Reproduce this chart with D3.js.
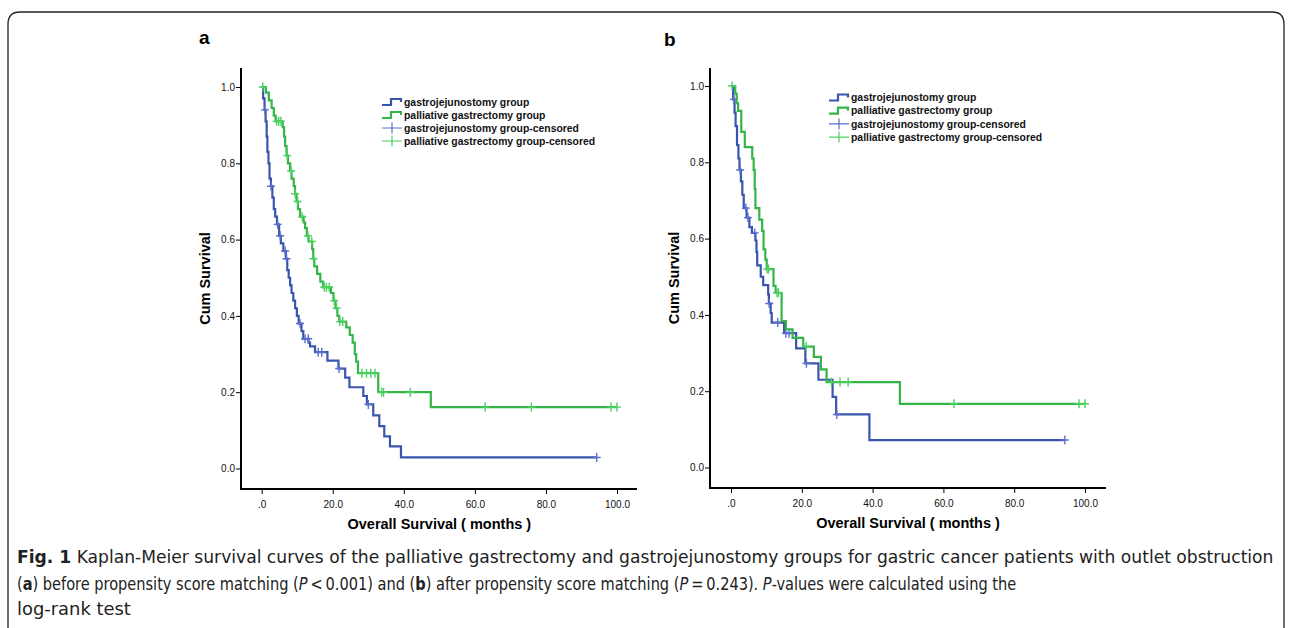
<!DOCTYPE html>
<html>
<head>
<meta charset="utf-8">
<script src="https://cdn.jsdelivr.net/npm/d3@7"></script>
<style>
  body { margin: 0; background: #fff; }
  svg { display: block; }
</style>
</head>
<body>
<div id="chart"></div>
<script>
// axis ticks
const xTicks = [0, 20, 40, 60, 80, 100];
const xTickLabels = [".0", "20.0", "40.0", "60.0", "80.0", "100.0"];
const yTicks = [0, 0.2, 0.4, 0.6, 0.8, 1.0];
const yTickLabels = ["0.0", "0.2", "0.4", "0.6", "0.8", "1.0"];

const seriesNames = [
  "gastrojejunostomy group",
  "palliative gastrectomy group",
  "gastrojejunostomy group-censored",
  "palliative gastrectomy group-censored",
];

// panel a: before matching
const gjTimesA = [0.4, 0.8, 1.1, 1.4, 1.6, 1.9, 2.2, 2.6, 3.0, 3.4, 3.8, 4.3, 4.9, 5.4, 6.1, 6.8, 7.2, 7.6, 8.0, 8.4, 8.9, 9.4, 9.9, 10.4, 11.2, 11.7, 13.2, 13.6, 15.0, 18.5, 21.6, 23.5, 24.7, 28.6, 29.6, 31.4, 33.1, 34.5, 36.1, 39.2];
const gjSurvA = [0.97, 0.94, 0.91, 0.87, 0.83, 0.80, 0.76, 0.74, 0.71, 0.68, 0.66, 0.64, 0.61, 0.59, 0.57, 0.55, 0.52, 0.50, 0.48, 0.46, 0.44, 0.42, 0.40, 0.38, 0.36, 0.34, 0.33, 0.32, 0.305, 0.283, 0.262, 0.238, 0.213, 0.19, 0.168, 0.139, 0.111, 0.084, 0.058, 0.029];
const gjCensA = [0.9, 2.6, 4.5, 5.2, 6.6, 7.0, 10.8, 12.2, 13.1, 15.9, 16.9, 21.8, 30.0, 94.3];

const pgTimesA = [1.2, 2.0, 2.8, 3.4, 3.9, 5.9, 6.3, 6.6, 7.0, 7.4, 8.0, 8.4, 9.0, 9.4, 9.8, 10.2, 10.8, 11.8, 12.2, 12.7, 13.2, 14.2, 14.5, 14.8, 15.6, 16.5, 17.3, 19.5, 20.2, 20.8, 21.3, 21.8, 23.8, 24.8, 25.6, 26.2, 26.6, 27.1, 32.8, 47.6];
const pgSurvA = [0.985, 0.965, 0.945, 0.925, 0.91, 0.895, 0.87, 0.845, 0.82, 0.80, 0.78, 0.76, 0.74, 0.72, 0.70, 0.68, 0.66, 0.645, 0.63, 0.61, 0.595, 0.575, 0.55, 0.53, 0.51, 0.49, 0.475, 0.46, 0.44, 0.42, 0.40, 0.385, 0.37, 0.35, 0.33, 0.30, 0.28, 0.25, 0.20, 0.161];
const pgCensA = [0.3, 4.2, 4.8, 5.4, 7.2, 8.3, 9.4, 10.1, 11.4, 13.0, 14.1, 14.6, 17.6, 18.2, 19.0, 20.4, 21.1, 22.0, 22.8, 28.2, 29.5, 30.7, 31.9, 33.8, 34.3, 41.8, 62.9, 75.9, 98.3, 100.0];

// panel b: after matching
const gjTimesB = [0.6, 1.0, 1.3, 1.7, 2.1, 2.4, 2.8, 3.2, 3.6, 4.4, 5.2, 5.9, 6.9, 7.2, 7.4, 8.4, 9.1, 10.5, 10.7, 11.2, 11.5, 15.0, 18.4, 21.0, 24.7, 28.7, 29.7, 39.1];
const gjSurvB = [0.965, 0.93, 0.895, 0.845, 0.81, 0.78, 0.75, 0.715, 0.68, 0.655, 0.63, 0.615, 0.595, 0.565, 0.53, 0.50, 0.478, 0.454, 0.43, 0.405, 0.38, 0.352, 0.312, 0.273, 0.23, 0.185, 0.139, 0.072];
const gjCensB = [0.8, 2.6, 4.2, 4.8, 6.7, 10.8, 13.2, 15.5, 16.4, 21.3, 29.9, 94.3];

const pgTimesB = [1.2, 1.6, 2.0, 2.9, 3.9, 6.0, 6.4, 6.7, 6.9, 8.0, 8.8, 9.2, 9.7, 10.1, 12.0, 12.6, 14.3, 15.5, 17.4, 20.4, 23.4, 25.4, 27.0, 47.7];
const pgSurvB = [0.98, 0.955, 0.935, 0.88, 0.84, 0.81, 0.78, 0.73, 0.68, 0.65, 0.62, 0.572, 0.545, 0.52, 0.476, 0.458, 0.384, 0.362, 0.34, 0.317, 0.29, 0.257, 0.224, 0.167];
const pgCensB = [0.3, 10.2, 10.6, 13.0, 13.4, 21.2, 28.4, 30.8, 33.1, 63.0, 98.3, 100.0];

const blue = "#3a55ae";
const green = "#35b548";
const blueLight = "#5b70d0";
const greenLight = "#4cd262";
const sans = "'Liberation Sans', Arial, Helvetica, sans-serif";

const svg = d3.select("#chart").append("svg")
  .attr("width", 1290)
  .attr("height", 628);

// figure frame
svg.append("path")
  .attr("d", "M8,640 V24 Q8,12 20,12 H1272 Q1284,12 1284,24 V640")
  .attr("fill", "none")
  .attr("stroke", "#222")
  .attr("stroke-width", 1.3);

function survAt(times, surv, t) {
  let s = 1;
  times.forEach((tt, i) => { if (tt <= t) s = surv[i]; });
  return s;
}

function drawPanel(p) {
  const x = d3.scaleLinear().domain([0, 100]).range([p.x0, p.x100]);
  const y = d3.scaleLinear().domain([0, 1]).range([p.y0, p.y1]);
  const g = svg.append("g");

  g.append("text")
    .attr("x", p.labelX).attr("y", p.labelY)
    .attr("font-family", sans)
    .attr("font-weight", "bold").attr("font-size", 19)
    .text(p.label);

  // axes
  const xAxis = g.append("g")
    .attr("transform", `translate(0,${p.bottom})`)
    .call(d3.axisBottom(x).tickValues(xTicks).tickFormat((d, i) => xTickLabels[i]).tickSize(5).tickSizeOuter(0));
  const yAxis = g.append("g")
    .attr("transform", `translate(${p.left},0)`)
    .call(d3.axisLeft(y).tickValues(yTicks).tickFormat((d, i) => yTickLabels[i]).tickSize(5).tickSizeOuter(0));
  [xAxis, yAxis].forEach((a) => {
    a.select(".domain").remove();
    a.selectAll("line").attr("stroke", "#000").attr("stroke-width", 1);
    a.selectAll("text")
      .attr("font-family", sans)
      .attr("font-size", 10).attr("fill", "#111");
  });
  xAxis.selectAll("text").attr("dy", "1.05em");
  yAxis.selectAll("text").attr("x", -6);

  g.append("path")
    .attr("d", `M${p.left},${p.top} V${p.bottom} H${p.right}`)
    .attr("fill", "none").attr("stroke", "#000").attr("stroke-width", 2);

  g.append("text")
    .attr("x", (p.x0 + p.x100) / 2).attr("y", p.bottom + 40)
    .attr("text-anchor", "middle")
    .attr("font-family", sans)
    .attr("font-weight", "bold").attr("font-size", 14.5)
    .text("Overall Survival ( months )");

  g.append("text")
    .attr("transform", `translate(${p.left - 31},${(p.top + p.bottom) / 2}) rotate(-90)`)
    .attr("text-anchor", "middle")
    .attr("font-family", sans)
    .attr("font-weight", "bold").attr("font-size", 14.5)
    .text("Cum Survival");

  const line = d3.line()
    .curve(d3.curveStepAfter)
    .x((d) => x(d[0]))
    .y((d) => y(d[1]));

  p.series.forEach((s) => {
    const lastT = d3.max(s.cens);
    const pts = [[0, 1]].concat(s.times.map((t, i) => [t, s.surv[i]]));
    pts.push([lastT, s.surv[s.surv.length - 1]]);
    g.append("path")
      .datum(pts)
      .attr("fill", "none")
      .attr("stroke", s.color)
      .attr("stroke-width", 2.2)
      .attr("d", line);

    g.selectAll(null)
      .data(s.cens)
      .enter()
      .append("path")
      .attr("d", (t) => {
        const cx = x(t), cy = y(survAt(s.times, s.surv, t));
        return `M${cx - 4},${cy} H${cx + 4} M${cx},${cy - 4.5} V${cy + 4.5}`;
      })
      .attr("stroke", s.light)
      .attr("stroke-width", 1.4)
      .attr("fill", "none");
  });

  // legend
  const lg = g.append("g").attr("transform", `translate(${p.legX},${p.legY})`);
  seriesNames.forEach((name, i) => {
    const yy = i * p.legStep;
    const col = i % 2 === 0 ? blue : green;
    const colL = i % 2 === 0 ? blueLight : greenLight;
    if (i < 2) {
      lg.append("path")
        .attr("d", `M0,${yy + 3} H9 V${yy - 3} H19 V${yy}`)
        .attr("fill", "none").attr("stroke", col).attr("stroke-width", 2.2);
    } else {
      lg.append("path")
        .attr("d", `M0,${yy} H20 M10,${yy - 5.5} V${yy + 5.5}`)
        .attr("fill", "none").attr("stroke", colL).attr("stroke-width", 1.2);
    }
    lg.append("text")
      .attr("x", 22).attr("y", yy + 3.6)
      .attr("font-family", sans)
      .attr("font-weight", "bold").attr("font-size", 10.4)
      .attr("fill", "#111")
      .text(name);
  });
}

drawPanel({
  label: "a", labelX: 199, labelY: 44,
  left: 241, right: 637, top: 68, bottom: 489,
  x0: 261.7, x100: 617, y0: 468.5, y1: 87,
  legX: 382, legY: 102, legStep: 13,
  series: [
    { times: gjTimesA, surv: gjSurvA, cens: gjCensA, color: blue, light: blueLight },
    { times: pgTimesA, surv: pgSurvA, cens: pgCensA, color: green, light: greenLight },
  ],
});

drawPanel({
  label: "b", labelX: 664, labelY: 46,
  left: 710, right: 1106, top: 68, bottom: 488,
  x0: 731, x100: 1085, y0: 467.5, y1: 86,
  legX: 829, legY: 97.5, legStep: 13.2,
  series: [
    { times: gjTimesB, surv: gjSurvB, cens: gjCensB, color: blue, light: blueLight },
    { times: pgTimesB, surv: pgSurvB, cens: pgCensB, color: green, light: greenLight },
  ],
});

// caption: each line is squeezed horizontally to the width it has in the figure
function captionLine(yPos, width) {
  const g = svg.append("g")
    .attr("font-family", "'Liberation Sans Narrow', 'DejaVu Sans Condensed', sans-serif")
    .attr("font-size", 18)
    .attr("fill", "#222");
  const t = g.append("text").attr("x", 0).attr("y", yPos);
  return { g, t, width };
}
function fit(line) {
  const w = line.t.node().getComputedTextLength();
  line.g.attr("transform", `translate(17,0) scale(${line.width / w},1)`);
}

const l1 = captionLine(563, 1258);
l1.t.append("tspan").attr("font-weight", "bold").text("Fig. 1");
l1.t.append("tspan").text(" Kaplan-Meier survival curves of the palliative gastrectomy and gastrojejunostomy groups for gastric cancer patients with outlet obstruction");
fit(l1);

const l2 = captionLine(590, 1000);
l2.t.append("tspan").text("(");
l2.t.append("tspan").attr("font-weight", "bold").text("a");
l2.t.append("tspan").text(") before propensity score matching (");
l2.t.append("tspan").attr("font-style", "italic").text("P");
l2.t.append("tspan").text("\u2009<\u20090.001) and (");
l2.t.append("tspan").attr("font-weight", "bold").text("b");
l2.t.append("tspan").text(") after propensity score matching (");
l2.t.append("tspan").attr("font-style", "italic").text("P");
l2.t.append("tspan").text("\u2009=\u20090.243). ");
l2.t.append("tspan").attr("font-style", "italic").text("P");
l2.t.append("tspan").text("-values were calculated using the");
fit(l2);

const l3 = captionLine(615, 114);
l3.t.text("log-rank test");
fit(l3);
</script>
</body>
</html>
